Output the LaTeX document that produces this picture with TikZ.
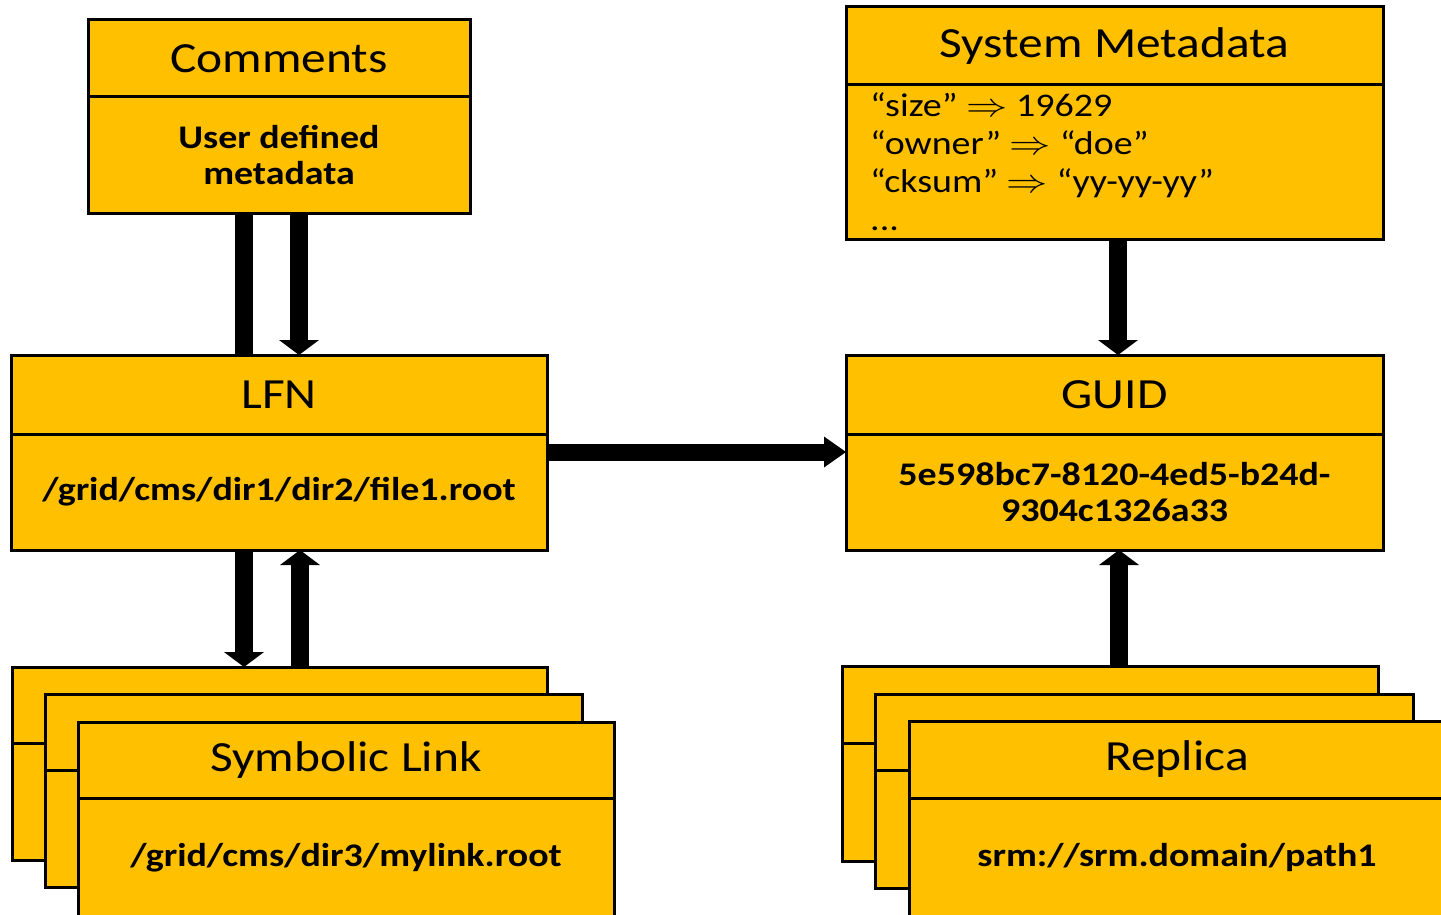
\RequirePackage{fix-cm}
\documentclass[tikz,border=0pt]{standalone}
\usepackage{fontspec}
\usepackage{graphicx}
\setmainfont{Carlito}[FakeStretch=1.15]
\usetikzlibrary{arrows.meta}
\definecolor{gold}{HTML}{FFC000}
\newcommand\implarrow{\scalebox{1.25}[1]{$\Rightarrow$}}
\tikzset{
  boxsty/.style={draw=black, fill=gold, line width=3pt, inner sep=0pt, outer sep=0pt, text=black, align=center},
  hdr/.style={font=\fontsize{43}{50}\selectfont},
  bdy/.style={font=\bfseries\fontsize{33}{36}\selectfont},
  metaline/.style={anchor=base west, inner sep=0pt, text=black, font=\fontsize{33}{38}\selectfont},
  shaft/.style={draw=black, line width=18pt},
  hshaft/.style={draw=black, line width=17pt},
  vhead/.style={-{Triangle[width=40pt,length=15pt,line width=0pt]}},
  hhead/.style={-{Triangle[width=31pt,length=22pt,line width=0pt]}}
}
% name, left, top, right, divider, bottom, header, body
\newcommand\tbox[8]{%
  \pgfmathsetmacro\bw{#4-#2}%
  \pgfmathsetmacro\hh{#5-#3}%
  \pgfmathsetmacro\bh{#6-#5}%
  \node[boxsty, hdr, minimum width=\bw pt, minimum height=\hh pt] (#1h) at ({(#2+#4)/2},{(#3+#5)/2}) {#7};
  \node[boxsty, bdy, minimum width=\bw pt, minimum height=\bh pt] (#1) at ({(#2+#4)/2},{(#5+#6)/2}) {#8};
}
\begin{document}
\begin{tikzpicture}[x=1pt, y=-1pt]
\useasboundingbox (0,0) rectangle (1441,915);
\clip (0,0) rectangle (1441,915);

% top-level boxes
\tbox{comm}{88}{20}{470}{97}{213}{Comments}{User defined\\metadata}
\tbox{meta}{846}{7}{1383}{85}{239}{System Metadata}{}
\tbox{lfn}{11}{355}{547}{434}{550}{LFN}{/grid/cms/dir1/dir2/file1.root}
\tbox{guid}{846}{355}{1383}{434}{550}{GUID}{5e598bc7-8120-4ed5-b24d-\\9304c1326a33}

% metadata lines
\node[metaline] (m1) at (870,117) {“size” \implarrow\ 19629};
\node[metaline] (m2) at (870,155) {“owner” \implarrow\ “doe”};
\node[metaline] (m3) at (870,193) {“cksum” \implarrow\ “yy-yy-yy”};
\node[metaline] (m4) at (870,230) {...};

% symbolic link stack
\tbox{symA}{12}{667}{547}{743}{860}{}{}
\tbox{symB}{45}{694}{582}{770}{887}{}{}
\tbox{sym}{78}{722}{614}{798}{918}{Symbolic Link}{/grid/cms/dir3/mylink.root}

% replica stack
\tbox{repA}{842}{666}{1378}{743}{861}{}{}
\tbox{repB}{875}{694}{1413}{770}{888}{}{}
\tbox{rep}{909}{721}{1445}{798}{918}{Replica}{srm://srm.domain/path1}

% connectors
\draw[shaft] ([xshift=-35pt]comm.south) -- ([xshift=-35pt]comm.south |- lfnh.north);
\draw[shaft, vhead] ([xshift=20pt]comm.south) -- ([xshift=20pt]comm.south |- lfnh.north);
\draw[shaft, vhead] ([xshift=-35pt]lfn.south) -- ([xshift=-35pt]lfn.south |- symAh.north);
\draw[shaft, vhead] ([xshift=21pt]lfn.south |- symAh.north) -- ([xshift=21pt]lfn.south);
\draw[hshaft, hhead] ([yshift=40pt]lfn.east) -- ([yshift=40pt]lfn.east -| guid.west);
\draw[shaft, vhead] ([xshift=3.5pt]meta.south) -- ([xshift=3.5pt]meta.south |- guidh.north);
\draw[shaft, vhead] ([xshift=4.5pt]guid.south |- repAh.north) -- ([xshift=4.5pt]guid.south);
\end{tikzpicture}
\end{document}
